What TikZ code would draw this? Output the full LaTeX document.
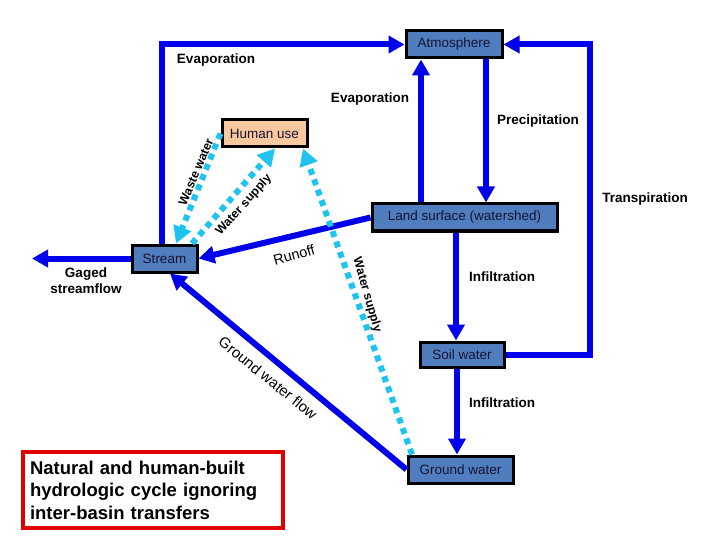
\documentclass[tikz,border=0pt]{standalone}
\usepackage{fontspec}
\setmainfont{Liberation Sans}
\usetikzlibrary{arrows.meta}
\definecolor{flowblue}{RGB}{0,0,235}
\definecolor{supply}{RGB}{30,195,240}
\definecolor{boxfill}{RGB}{80,125,190}
\definecolor{peach}{RGB}{250,200,158}
\definecolor{boxtext}{RGB}{20,20,50}
\definecolor{framered}{RGB}{225,0,0}
\begin{document}
\begin{tikzpicture}[x=1pt,y=-1pt,
  box/.style={draw=black, line width=3pt, fill=boxfill, text=boxtext, inner sep=0pt,
    font=\fontsize{13.5}{16}\selectfont},
  flow/.style={draw=flowblue, line width=6pt, line join=miter,
    -{Triangle[length=16pt,width=17pt]}},
  dotflow/.style={draw=supply, line width=6pt, dash pattern=on 6pt off 5pt,
    -{Triangle[length=17pt,width=18pt]}},
  lab/.style={font=\bfseries\fontsize{13.5}{16}\selectfont, inner sep=1pt},
  rlab/.style={font=\fontsize{14.5}{16}\selectfont, inner sep=1pt},
  blab/.style={font=\bfseries\fontsize{12.3}{14}\selectfont, inner sep=1pt}]
\useasboundingbox (0,0) rectangle (720,540);

% boxes
\node[box, minimum width=96pt, minimum height=27pt] (atm) at (454,44.5) {Atmosphere};
\node[box, fill=peach, minimum width=85pt, minimum height=27pt] (human) at (264.5,133.5) {Human use};
\node[box, minimum width=185pt, minimum height=27pt] (land) at (464.5,217.5) {Land surface (watershed)};
\node[box, minimum width=65pt, minimum height=27pt] (stream) at (164.5,258.5) {Stream};
\node[box, minimum width=84pt, minimum height=25pt] (soil) at (462,354.5) {Soil water};
\node[box, minimum width=105pt, minimum height=27pt] (ground) at (460.5,469.5) {Ground water};

% helper coordinates
\coordinate (ev) at (162,0);
\coordinate (ev2) at (421,0);
\coordinate (pr) at (486,0);
\coordinate (tr) at (590,0);
\coordinate (in1) at (456,0);
\coordinate (in2) at (457,0);
\coordinate (gf) at (170,0);
\coordinate (gs) at (32,258.5);
\coordinate (ww) at (176,0);
\coordinate (wsa) at (192,0);
\coordinate (wsb) at (275,0);
\coordinate (wra) at (412,0);
\coordinate (wrb) at (303,0);

% blue flows
\draw[flow] (stream.north -| ev) -- (atm.west -| ev) -- (atm.west);
\draw[flow] (land.north -| ev2) -- (atm.south -| ev2);
\draw[flow] (atm.south -| pr) -- (land.north -| pr);
\draw[flow] (soil.east) -- (soil.east -| tr) -- (atm.east -| tr) -- (atm.east);
\draw[flow] (land.south -| in1) -- (soil.north -| in1);
\draw[flow] (soil.south -| in2) -- (ground.north -| in2);
\draw[flow] (land.west) -- (stream.east);
\draw[flow] (stream.west) -- (gs);
\draw[flow] (ground.west) -- (stream.south -| gf);

% human water flows
\draw[dotflow] (human.west) -- (stream.north -| ww);
\draw[dotflow] (stream.north -| wsa) -- (human.south -| wsb);
\draw[dotflow] (ground.north -| wra) -- (human.south -| wrb);

% labels
\node[lab] (levap) at (216,60) {Evaporation};
\node[lab] (cevap) at (370,99) {Evaporation};
\node[lab] (prec) at (538,121) {Precipitation};
\node[lab] (trans) at (645,199) {Transpiration};
\node[lab] (inf1) at (502,277) {Infiltration};
\node[lab] (inf2) at (502,403) {Infiltration};
\node[lab, align=center, font=\bfseries\fontsize{13.5}{16}\selectfont] (gaged) at (86,281) {Gaged\\streamflow};

\node[rlab, rotate=16] (runoff) at (294,255) {Runoff};
\node[rlab, rotate=-39, font=\fontsize{15}{17}\selectfont] (gwf) at (268,378) {Ground water flow};
\node[blab, rotate=-74] (wsr) at (367,295) {Water supply};
\node[blab, rotate=48] (wsl) at (244,205) {Water supply};
\node[blab, rotate=67] (wwl) at (196,172) {Waste water};

% title frame
\node[draw=framered, line width=4pt, minimum width=260pt, minimum height=76pt,
  text width=246pt, align=left, inner sep=0pt,
  font=\bfseries\fontsize{18.5}{22.5}\selectfont] (title) at (153,490)
  {Natural and human-built\\hydrologic cycle ignoring\\inter-basin transfers};
\end{tikzpicture}
\end{document}
